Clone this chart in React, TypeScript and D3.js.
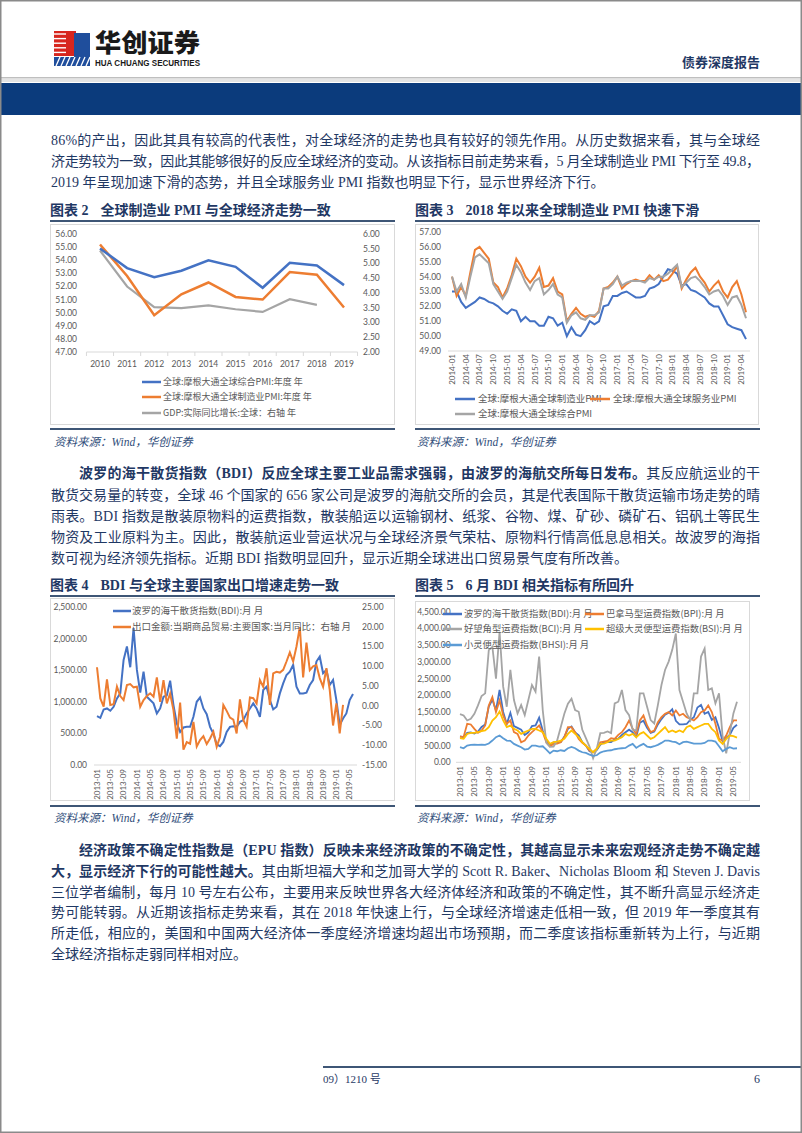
import React from 'react';
import * as d3 from 'd3';

// ---------------- colours & fonts ----------------
const NAVY = '#1f3864';
const RULE = '#3e5676';
const AX = '#595959';
const BORDER = '#d9d9d9';
const BLUE = '#4472c4';
const ORANGE = '#ed7d31';
const GREY = '#a5a5a5';
const YELLOW = '#ffc000';
const LBLUE = '#5b9bd5';
const BODY = "'Liberation Serif', 'Noto Sans CJK SC', serif";
const NUM = "Lato, 'Noto Sans CJK SC', sans-serif";
const CJK = "'Noto Sans CJK SC', sans-serif";

// ---------------- Fig 2 data ----------------
const fig2Years = ['2010', '2011', '2012', '2013', '2014', '2015', '2016', '2017', '2018', '2019'];
const fig2Composite = [54.9, 53.4, 52.7, 53.2, 54.0, 53.5, 51.9, 53.8, 53.6, 52.1];
const fig2Manufacturing = [55.2, 52.8, 49.8, 51.4, 52.3, 51.2, 51.0, 53.1, 52.9, 50.4];
const fig2GDP = [5.44, 4.22, 3.52, 3.49, 3.58, 3.45, 3.36, 3.79, 3.6];
const fig2LeftTicks = [47, 48, 49, 50, 51, 52, 53, 54, 55, 56];
const fig2RightTicks = [2, 2.5, 3, 3.5, 4, 4.5, 5, 5.5, 6];
const fig2Legend = ['全球:摩根大通全球综合PMI:年度 年', '全球:摩根大通全球制造业PMI:年度 年', 'GDP:实际同比增长:全球：右轴 年'];

// ---------------- Fig 3 data (2014-01 .. 2019-05) ----------------
const fig3Manufacturing = [
  53.0, 53.0, 52.3, 51.9, 52.1, 52.3, 52.6, 52.5, 52.3, 52.2, 52.0, 51.7,
  51.5, 51.8, 51.7, 51.0, 51.3, 51.0, 51.0, 50.7, 50.7, 51.3, 51.2, 50.7,
  50.9, 50.0, 50.6, 50.1, 50.0, 50.4, 51.0, 50.8, 51.0, 52.0, 52.1, 52.7,
  52.7, 52.9, 53.0, 52.8, 52.6, 52.6, 52.7, 53.2, 53.3, 53.5, 54.0, 54.5,
  54.4, 54.2, 53.4, 53.5, 53.1, 53.0, 52.8, 52.6, 52.2, 52.0, 52.0, 51.4,
  50.8, 50.6, 50.5, 50.4, 49.8,
];
const fig3Services = [
  54.0, 52.7, 53.3, 52.7, 54.3, 55.8, 56.0, 55.6, 55.2, 53.6, 53.3, 52.6,
  53.2, 54.1, 55.2, 54.7, 54.0, 53.6, 54.0, 54.6, 53.3, 53.4, 53.9, 53.0,
  52.8, 51.0, 51.5, 51.9, 51.5, 51.3, 51.4, 51.3, 51.7, 53.2, 53.3, 53.6,
  54.0, 53.2, 53.5, 53.7, 53.8, 53.7, 53.7, 54.1, 53.8, 54.1, 53.7, 53.8,
  54.2, 54.7, 53.2, 53.8, 54.3, 54.6, 54.0, 53.6, 53.0, 53.4, 53.7, 53.0,
  52.6, 53.3, 53.7, 52.8, 51.6,
];
const fig3Composite = [
  54.0, 53.0, 53.5, 52.6, 54.0, 55.3, 55.5, 55.2, 54.9, 53.5, 53.0, 52.5,
  53.0, 53.9, 54.8, 54.3, 53.6, 53.1, 53.7, 53.9, 52.8, 53.1, 53.5, 52.8,
  52.6, 50.9, 51.4, 51.6, 51.2, 51.1, 51.4, 51.4, 51.6, 53.2, 53.2, 53.5,
  54.0, 53.4, 53.6, 53.7, 53.7, 53.7, 53.6, 53.9, 53.8, 54.0, 54.0, 54.2,
  54.5, 54.8, 53.3, 53.6, 53.9, 54.0, 53.7, 53.3, 52.8, 53.0, 53.1, 52.7,
  52.1, 52.6, 52.7, 52.1, 51.2,
];
const fig3YTicks = [49, 50, 51, 52, 53, 54, 55, 56, 57];
const fig3XTicks = [
  '2014-01', '2014-04', '2014-07', '2014-10', '2015-01', '2015-04', '2015-07', '2015-10',
  '2016-01', '2016-04', '2016-07', '2016-10', '2017-01', '2017-04', '2017-07', '2017-10',
  '2018-01', '2018-04', '2018-07', '2018-10', '2019-01', '2019-04',
];
const fig3Legend = ['全球:摩根大通全球制造业PMI', '全球:摩根大通全球服务业PMI', '全球:摩根大通全球综合PMI'];

// ---------------- Fig 4 / 5 data (2013-01 .. 2019-06) ----------------
const bdi = [
  773, 747, 879, 895, 858, 921, 1054, 1133, 1663, 1875, 1547, 2166,
  1504, 1144, 1478, 1080, 1028, 975, 816, 895, 1080, 1100, 1335, 948,
  657, 524, 593, 604, 604, 763, 1000, 1070, 895, 805, 604, 498,
  328, 297, 365, 524, 604, 614, 604, 683, 710, 816, 895, 975,
  895, 763, 1186, 1240, 1028, 879, 921, 1133, 1292, 1425, 1478, 1584,
  1240, 1133, 1133, 1144, 1266, 1345, 1637, 1716, 1451, 1504, 1266, 1345,
  1028, 630, 736, 816, 1028, 1123,
];
const exportYoY = [
  9.75, 1.86, -0.25, 6.7, 0.17, 0.42, 4.83, 2.46, 1.44, 5.25, 5.5, 4.66,
  4.83, -0.25, 1.44, 2.46, 3.14, 2.29, 7.2, 1.0, 6.5, 0.6, 3.1, -1.1,
  -8.3, 0.8, -11.1, -9.2, -9.6, -4.1, -10.3, -8.7, -7.7, -9.7, -8.3, -6.6,
  -10.4, -7.9, 0.2, -1.3, -3.0, -3.5, -7.0, 1.6, -3.6, -5.3, 2.1, 1.9,
  0.6, 6.5, 4.8, 9.5, 0.2, 8.2, 8.6, 8.4, 9.1, 11.2, 13.5, 11.2,
  15.0, 19.9, 7.2, 16.0, 9.0, 10.0, 10.3, 7.0, 4.8, 9.5, 4.0, -5.0,
  0.6, -7.0, 0.2,
];
const bpi = [
  770, 760, 1150, 1130, 1000, 880, 950, 1100, 1700, 1950, 1500, 1850,
  1400, 1150, 1250, 900, 850, 600, 650, 800, 900, 1000, 1100, 900,
  600, 480, 550, 560, 600, 750, 1050, 1050, 900, 700, 580, 500,
  350, 300, 400, 600, 620, 640, 720, 700, 820, 900, 1050, 1250,
  1000, 850, 1250, 1400, 1100, 900, 950, 1200, 1350, 1450, 1500, 1400,
  1550, 1400, 1450, 1350, 1300, 1250, 1350, 1500, 1550, 1700, 1500, 1150,
  700, 650, 800, 1050, 1250, 1250,
];
const bci = [
  1440, 1400, 1250, 1300, 1450, 1700, 1980, 2060, 3350, 3450, 2500, 3900,
  2260, 1660, 2760, 1860, 1460, 1710, 1410, 1860, 2310, 2110, 3160, 1560,
  580, 460, 470, 650, 1050, 1450, 1750, 1900, 1560, 1510, 970, 720,
  470, 120, 400, 870, 880, 920, 870, 1760, 1810, 2160, 1560, 1410,
  970, 950, 2060, 2060, 1660, 1260, 1160, 1710, 2310, 2760, 3010, 3360,
  3850, 2160, 1810, 1460, 1260, 2060, 2060, 3160, 3400, 2160, 2210, 1760,
  2060, 770, 270, 870, 1460, 1810,
];
const bsi = [
  720, 700, 850, 880, 880, 900, 930, 950, 1050, 1250, 1350, 1520,
  1250, 1050, 1100, 1000, 950, 850, 900, 950, 1000, 1000, 950, 900,
  700, 550, 600, 620, 650, 700, 850, 950, 850, 750, 600, 500,
  400, 300, 400, 550, 560, 600, 650, 650, 700, 750, 850, 800,
  850, 750, 850, 900, 800, 700, 750, 850, 950, 1050, 900, 950,
  900, 950, 900, 1050, 1100, 1000, 1050, 1100, 1150, 1150, 1000, 900,
  650, 550, 700, 800, 780, 740,
];
const bhsi = [
  450, 420, 500, 520, 530, 520, 530, 520, 560, 650, 750, 800,
  720, 650, 640, 550, 500, 450, 380, 400, 500, 500, 470, 480,
  380, 270, 350, 330, 360, 340, 420, 460, 420, 350, 300, 280,
  230, 190, 210, 290, 330, 350, 360, 390, 410, 420, 430, 500,
  550, 430, 500, 550, 470, 450, 480, 520, 580, 650, 650, 620,
  600, 540, 600, 620, 590, 560, 560, 560, 580, 650, 650, 620,
  480, 330, 400, 450, 410, 420,
];
const fig45XTicks = [
  '2013-01', '2013-05', '2013-09', '2014-01', '2014-05', '2014-09', '2015-01', '2015-05',
  '2015-09', '2016-01', '2016-05', '2016-09', '2017-01', '2017-05', '2017-09', '2018-01',
  '2018-05', '2018-09', '2019-01', '2019-05',
];
const fig4LeftTicks = [0, 500, 1000, 1500, 2000, 2500];
const fig4RightTicks = [-15, -10, -5, 0, 5, 10, 15, 20, 25];
const fig4Legend = ['波罗的海干散货指数(BDI):月 月', '出口金额:当期商品贸易:主要国家:当月同比：右轴 月'];
const fig5YTicks = [0, 500, 1000, 1500, 2000, 2500, 3000, 3500, 4000, 4500];
const fig5Legend = [
  '波罗的海干散货指数(BDI):月 月', '巴拿马型运费指数(BPI):月 月', '好望角型运费指数(BCI):月 月',
  '超级大灵便型运费指数(BSI):月 月', '小灵便型运费指数(BHSI):月 月',
];

function monthList(y0: number, m0: number, n: number): string[] {
  const out: string[] = [];
  for (let i = 0; i < n; i++) {
    const m = m0 - 1 + i;
    out.push(`${y0 + Math.floor(m / 12)}-${String((m % 12) + 1).padStart(2, '0')}`);
  }
  return out;
}
const months14 = monthList(2014, 1, fig3Manufacturing.length);
const months13 = monthList(2013, 1, bdi.length);

const fmtC = d3.format(',.2f');
const f2 = (v: number) => v.toFixed(2);

// ---------------- text ----------------
type Seg = { t: string; b?: boolean };
type PLine = { x: number; y: number; segs: Seg[]; justify: boolean };
const L = 51, R = 760;
const para1: PLine[] = [
  { x: L, y: 145, justify: true, segs: [{ t: '86%的产出，因此其具有较高的代表性，对全球经济的走势也具有较好的领先作用。从历史数据来看，其与全球经' }] },
  { x: L, y: 166, justify: true, segs: [{ t: '济走势较为一致，因此其能够很好的反应全球经济的变动。从该指标目前走势来看，5 月全球制造业 PMI 下行至 49.8，' }] },
  { x: L, y: 187, justify: false, segs: [{ t: '2019 年呈现加速下滑的态势，并且全球服务业 PMI 指数也明显下行，显示世界经济下行。' }] },
];
const para2: PLine[] = [
  { x: 79, y: 478, justify: true, segs: [{ t: '波罗的海干散货指数（BDI）反应全球主要工业品需求强弱，由波罗的海航交所每日发布。', b: true }, { t: '其反应航运业的干' }] },
  { x: L, y: 500, justify: true, segs: [{ t: '散货交易量的转变，全球 46 个国家的 656 家公司是波罗的海航交所的会员，其是代表国际干散货运输市场走势的晴' }] },
  { x: L, y: 521, justify: true, segs: [{ t: '雨表。BDI 指数是散装原物料的运费指数，散装船运以运输钢材、纸浆、谷物、煤、矿砂、磷矿石、铝矾土等民生' }] },
  { x: L, y: 542, justify: true, segs: [{ t: '物资及工业原料为主。因此，散装航运业营运状况与全球经济景气荣枯、原物料行情高低息息相关。故波罗的海指' }] },
  { x: L, y: 563, justify: false, segs: [{ t: '数可视为经济领先指标。近期 BDI 指数明显回升，显示近期全球进出口贸易景气度有所改善。' }] },
];
const para3: PLine[] = [
  { x: 79, y: 855, justify: true, segs: [{ t: '经济政策不确定性指数是（EPU 指数）反映未来经济政策的不确定性，其越高显示未来宏观经济走势不确定越', b: true }] },
  { x: L, y: 876, justify: true, segs: [{ t: '大，显示经济下行的可能性越大。', b: true }, { t: '其由斯坦福大学和芝加哥大学的 Scott R.  Baker、Nicholas Bloom 和 Steven J. Davis' }] },
  { x: L, y: 897, justify: true, segs: [{ t: '三位学者编制，每月 10 号左右公布，主要用来反映世界各大经济体经济和政策的不确定性，其不断升高显示经济走' }] },
  { x: L, y: 917, justify: true, segs: [{ t: '势可能转弱。从近期该指标走势来看，其在 2018 年快速上行，与全球经济增速走低相一致，但 2019 年一季度其有' }] },
  { x: L, y: 938, justify: true, segs: [{ t: '所走低，相应的，美国和中国两大经济体一季度经济增速均超出市场预期，而二季度该指标重新转为上行，与近期' }] },
  { x: L, y: 959, justify: false, segs: [{ t: '全球经济指标走弱同样相对应。' }] },
];

function Para({ lines }: { lines: PLine[] }) {
  return (
    <g>
      {lines.map((ln, i) => (
        <text
          key={i}
          x={ln.x}
          y={ln.y}
          fontSize={14}
          fill={NAVY}
          fontFamily={BODY}
          {...(ln.justify ? { textLength: R - ln.x, lengthAdjust: 'spacing' } : {})}
        >
          {ln.segs.map((s, j) => (
            <tspan key={j} fontWeight={s.b ? 700 : 400}>{s.t}</tspan>
          ))}
        </text>
      ))}
    </g>
  );
}

function Title({ x, y, num, text, x2 }: { x: number; y: number; num: string; text: string; x2: number }) {
  return (
    <g>
      <text x={x} y={y} fontSize={14} fontWeight={700} fill={NAVY} fontFamily={BODY}>
        <tspan>{'图表 ' + num}</tspan>
        <tspan dx={12}>{text}</tspan>
      </text>
      <line x1={x} x2={x2} y1={y + 6} y2={y + 6} stroke={RULE} strokeWidth={2} />
    </g>
  );
}

function Source({ x, y }: { x: number; y: number }) {
  return (
    <text x={x} y={y} fontSize={11.5} fontStyle="italic" fill="#2f4d7a" fontFamily={BODY}>
      资料来源：Wind，华创证券
    </text>
  );
}

function path(vals: number[], xf: (i: number) => number, yf: (v: number) => number) {
  return d3.line<number>().x((_, i) => xf(i)).y((d) => yf(d))(vals) || '';
}

// ---------------- Fig 2 chart ----------------
function Fig2() {
  const x = d3.scalePoint<string>().domain(fig2Years).range([100, 344]);
  const yL = d3.scaleLinear().domain([47, 56]).range([352, 234]);
  const yR = d3.scaleLinear().domain([2, 6]).range([352, 234]);
  const step = x.step();
  const xi = (i: number) => x(fig2Years[i]) as number;
  const x0 = xi(0) - step / 2;
  const x1 = xi(fig2Years.length - 1) + step / 2;
  const legendColors = [BLUE, ORANGE, GREY];
  const legendY = [382, 397, 413];
  return (
    <g>
      <rect x={50.5} y={224.5} width={344} height={200} fill="none" stroke={BORDER} />
      {fig2LeftTicks.map((v) => (
        <text key={v} x={77} y={yL(v)} dy="0.35em" textAnchor="end" fontSize={8.5} fill={AX} fontFamily={NUM}>{f2(v)}</text>
      ))}
      {fig2RightTicks.map((v) => (
        <text key={v} x={363} y={yR(v)} dy="0.35em" textAnchor="start" fontSize={8.5} fill={AX} fontFamily={NUM}>{f2(v)}</text>
      ))}
      <line x1={x0} x2={x1} y1={yL(47)} y2={yL(47)} stroke={BORDER} />
      {d3.range(fig2Years.length + 1).map((i) => (
        <line key={i} x1={x0 + i * step} x2={x0 + i * step} y1={yL(47)} y2={yL(47) + 4} stroke={BORDER} />
      ))}
      {fig2Years.map((yr) => (
        <text key={yr} x={x(yr)} y={367} textAnchor="middle" fontSize={8.5} fill={AX} fontFamily={NUM}>{yr}</text>
      ))}
      <path d={path(fig2GDP, xi, yR)} fill="none" stroke={GREY} strokeWidth={2.2} />
      <path d={path(fig2Manufacturing, xi, yL)} fill="none" stroke={ORANGE} strokeWidth={2.5} />
      <path d={path(fig2Composite, xi, yL)} fill="none" stroke={BLUE} strokeWidth={2.5} />
      {fig2Legend.map((t, i) => (
        <g key={t}>
          <line x1={142} x2={161} y1={legendY[i]} y2={legendY[i]} stroke={legendColors[i]} strokeWidth={2.5} />
          <text x={163} y={legendY[i]} dy="0.35em" fontSize={9} fill={AX} fontFamily={CJK}>{t}</text>
        </g>
      ))}
    </g>
  );
}

// ---------------- Fig 3 chart ----------------
function Fig3() {
  const x = d3.scalePoint<string>().domain(months14).range([452, 746]);
  const y = d3.scaleLinear().domain([49, 57]).range([351, 232]);
  const xi = (i: number) => x(months14[i]) as number;
  const legend = [
    { t: fig3Legend[0], c: BLUE, lx: 455, ly: 399 },
    { t: fig3Legend[1], c: ORANGE, lx: 590, ly: 399 },
    { t: fig3Legend[2], c: GREY, lx: 455, ly: 414 },
  ];
  return (
    <g>
      <rect x={415.5} y={224.5} width={343} height={200} fill="none" stroke={BORDER} />
      {fig3YTicks.map((v) => (
        <text key={v} x={441} y={y(v)} dy="0.35em" textAnchor="end" fontSize={8.5} fill={AX} fontFamily={NUM}>{f2(v)}</text>
      ))}
      <line x1={448} x2={750} y1={y(49)} y2={y(49)} stroke={BORDER} />
      {fig3XTicks.map((m) => (
        <text key={m} transform={`translate(${x(m)},${354}) rotate(-90)`} dy="0.35em" textAnchor="end" fontSize={8} fill={AX} fontFamily={NUM}>{m}</text>
      ))}
      <path d={path(fig3Manufacturing, xi, y)} fill="none" stroke={BLUE} strokeWidth={2} />
      <path d={path(fig3Services, xi, y)} fill="none" stroke={ORANGE} strokeWidth={2} />
      <path d={path(fig3Composite, xi, y)} fill="none" stroke={GREY} strokeWidth={2} />
      {legend.map((l) => (
        <g key={l.t}>
          <line x1={l.lx} x2={l.lx + 20} y1={l.ly} y2={l.ly} stroke={l.c} strokeWidth={2.5} />
          <text x={l.lx + 23} y={l.ly} dy="0.35em" fontSize={9.5} fill={AX} fontFamily={CJK}>{l.t}</text>
        </g>
      ))}
    </g>
  );
}

// ---------------- Fig 4 chart ----------------
function Fig4() {
  const x = d3.scalePoint<string>().domain(months13).range([97, 353]);
  const yL = d3.scaleLinear().domain([0, 2500]).range([765, 607]);
  const yR = d3.scaleLinear().domain([-15, 25]).range([765, 607]);
  const xi = (i: number) => x(months13[i]) as number;
  const legendColors = [BLUE, ORANGE];
  const legendY = [611, 627];
  return (
    <g>
      <rect x={50.5} y={598.5} width={344} height={202} fill="none" stroke={BORDER} />
      {fig4LeftTicks.map((v) => (
        <text key={v} x={87} y={yL(v)} dy="0.35em" textAnchor="end" fontSize={8.5} fill={AX} fontFamily={NUM}>{fmtC(v)}</text>
      ))}
      {fig4RightTicks.map((v) => (
        <text key={v} x={362} y={yR(v)} dy="0.35em" textAnchor="start" fontSize={8.5} fill={AX} fontFamily={NUM}>{f2(v)}</text>
      ))}
      <line x1={94} x2={357} y1={yL(0)} y2={yL(0)} stroke={BORDER} />
      {fig45XTicks.map((m) => (
        <text key={m} transform={`translate(${x(m)},${769}) rotate(-90)`} dy="0.35em" textAnchor="end" fontSize={8} fill={AX} fontFamily={NUM}>{m}</text>
      ))}
      <path d={path(bdi, xi, yL)} fill="none" stroke={BLUE} strokeWidth={2} />
      <path d={path(exportYoY, xi, yR)} fill="none" stroke={ORANGE} strokeWidth={2} />
      {fig4Legend.map((t, i) => (
        <g key={t}>
          <line x1={113} x2={131} y1={legendY[i]} y2={legendY[i]} stroke={legendColors[i]} strokeWidth={2.5} />
          <text x={132} y={legendY[i]} dy="0.35em" fontSize={9.5} fill={AX} fontFamily={CJK}>{t}</text>
        </g>
      ))}
    </g>
  );
}

// ---------------- Fig 5 chart ----------------
function Fig5() {
  const x = d3.scalePoint<string>().domain(months13).range([460, 737]);
  const y = d3.scaleLinear().domain([0, 4500]).range([762.3, 611.7]);
  const xi = (i: number) => x(months13[i]) as number;
  const series = [
    { d: bdi, c: BLUE },
    { d: bpi, c: ORANGE },
    { d: bci, c: GREY },
    { d: bsi, c: YELLOW },
    { d: bhsi, c: LBLUE },
  ];
  const legendPos = [
    { lx: 443, ly: 614 },
    { lx: 585, ly: 614 },
    { lx: 443, ly: 629 },
    { lx: 585, ly: 629 },
    { lx: 443, ly: 645 },
  ];
  return (
    <g>
      <rect x={415.5} y={601.5} width={334} height={199} fill="none" stroke={BORDER} />
      {fig5YTicks.map((v) => (
        <text key={v} x={450.7} y={y(v)} dy="0.35em" textAnchor="end" fontSize={8.5} fill={AX} fontFamily={NUM}>{fmtC(v)}</text>
      ))}
      <line x1={456} x2={741} y1={y(0)} y2={y(0)} stroke={BORDER} />
      {fig45XTicks.map((m) => (
        <text key={m} transform={`translate(${x(m)},${766}) rotate(-90)`} dy="0.35em" textAnchor="end" fontSize={8} fill={AX} fontFamily={NUM}>{m}</text>
      ))}
      {series.map((s, i) => (
        <path key={i} d={path(s.d, xi, y)} fill="none" stroke={s.c} strokeWidth={1.8} />
      ))}
      {fig5Legend.map((t, i) => (
        <g key={t}>
          <line x1={legendPos[i].lx} x2={legendPos[i].lx + 19} y1={legendPos[i].ly} y2={legendPos[i].ly} stroke={series[i].c} strokeWidth={2.5} />
          <text x={legendPos[i].lx + 21} y={legendPos[i].ly} dy="0.35em" fontSize={9.3} fill={AX} fontFamily={CJK}>{t}</text>
        </g>
      ))}
    </g>
  );
}

// ---------------- header logo ----------------
function Header() {
  const stripes = d3.range(5);
  return (
    <g>
      <rect x={54} y={31} width={22} height={25} fill="#d7261e" />
      {stripes.map((i) => (
        <line key={i} x1={54} x2={66} y1={34 + i * 4.6} y2={34 + i * 4.6} stroke="#fff" strokeWidth={1.4} />
      ))}
      <rect x={74} y={33} width={16} height={24} fill="#1f4e9c" />
      <rect x={54} y={57} width={36} height={9} fill="#1f4e9c" />
      {d3.range(7).map((i) => (
        <line key={i} x1={56 + i * 5} x2={60 + i * 5} y1={66} y2={57} stroke="#fff" strokeWidth={1.3} />
      ))}
      <text x={95} y={52} fontSize={25} fontWeight={900} fill="#1a1a1a" fontFamily={CJK} textLength={105} lengthAdjust="spacingAndGlyphs">华创证券</text>
      <text x={95} y={66} fontSize={9} fontWeight={700} fill="#1a1a1a" fontFamily="'Liberation Sans', Arial, sans-serif" textLength={105} lengthAdjust="spacingAndGlyphs">HUA CHUANG SECURITIES</text>
      <text x={760} y={67} textAnchor="end" fontSize={13} fontWeight={700} fill={NAVY} fontFamily={BODY}>债券深度报告</text>
      <rect x={0} y={77} width={802} height={1.5} fill="#bfbfbf" />
      <rect x={0} y={79} width={802} height={3} fill="#e4e4e4" />
      <rect x={0} y={83} width={802} height={32} fill="#0b3b7c" />
    </g>
  );
}

export default function App() {
  return (
    <div style={{ position: 'absolute', left: 0, top: 0, width: 802, height: 1133, background: '#fff' }}>
      <svg width={802} height={1133} viewBox="0 0 802 1133" style={{ display: 'block' }}>
        <rect x={0} y={0} width={802} height={1133} fill="#fff" />
        <Header />
        <Para lines={para1} />

        <Title x={50} y={215} num="2" text="全球制造业 PMI 与全球经济走势一致" x2={395} />
        <Title x={415} y={215} num="3" text="2018 年以来全球制造业 PMI 快速下滑" x2={760} />
        <Fig2 />
        <Fig3 />
        <line x1={50} x2={395} y1={429} y2={429} stroke={RULE} strokeWidth={2} />
        <line x1={415} x2={760} y1={429} y2={429} stroke={RULE} strokeWidth={2} />
        <Source x={54} y={446} />
        <Source x={417} y={446} />

        <Para lines={para2} />

        <Title x={50} y={590} num="4" text="BDI 与全球主要国家出口增速走势一致" x2={395} />
        <Title x={415} y={590} num="5" text="6 月 BDI 相关指标有所回升" x2={760} />
        <Fig4 />
        <Fig5 />
        <line x1={50} x2={395} y1={806} y2={806} stroke={RULE} strokeWidth={2} />
        <line x1={415} x2={760} y1={806} y2={806} stroke={RULE} strokeWidth={2} />
        <Source x={54} y={822} />
        <Source x={417} y={822} />

        <Para lines={para3} />

        <line x1={323} x2={802} y1={1067} y2={1067} stroke={RULE} strokeWidth={2} />
        <text x={323} y={1083} fontSize={11} fill={NAVY} fontFamily={BODY}>09）1210 号</text>
        <text x={754} y={1083} fontSize={12} fill={NAVY} fontFamily={BODY}>6</text>

        <rect x={0.75} y={0.75} width={800.5} height={1131.5} fill="none" stroke="#8a8a8a" strokeWidth={1.5} />
      </svg>
    </div>
  );
}
